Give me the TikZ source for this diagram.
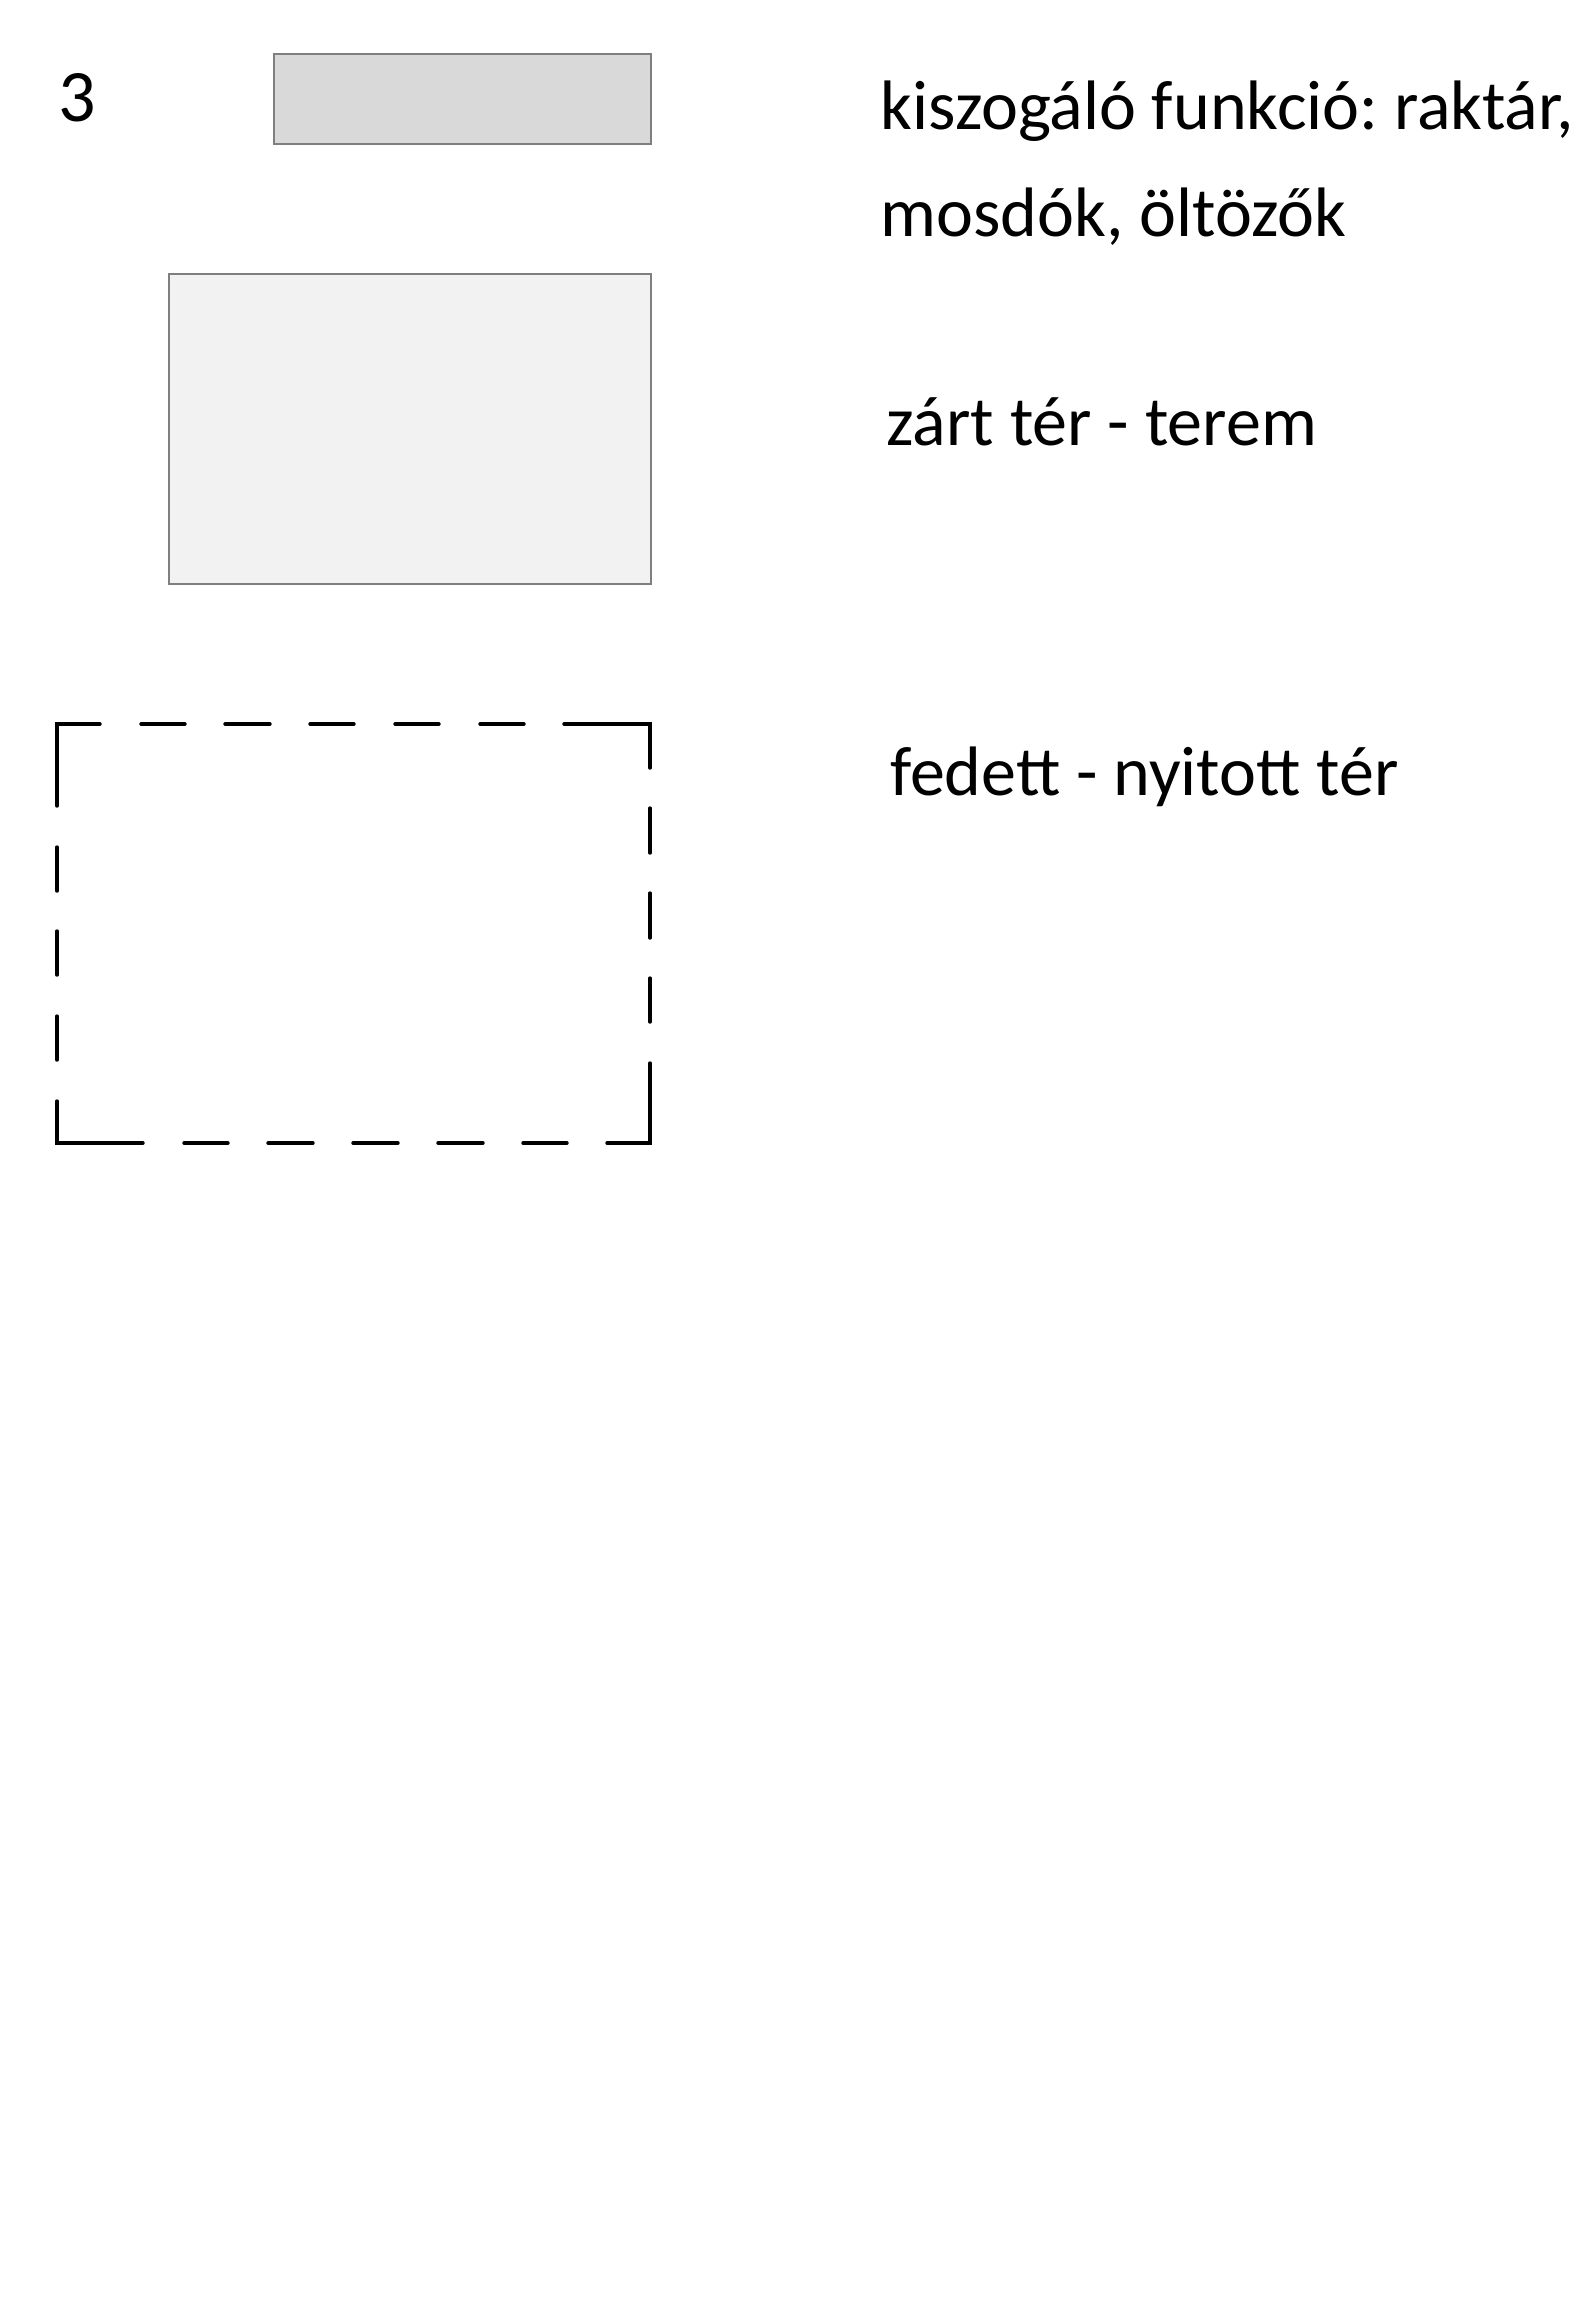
\documentclass[tikz,border=0pt]{standalone}
\usepackage{fontspec}
\setmainfont{Carlito}
\frenchspacing
\definecolor{boxline}{HTML}{7F7F7F}
\definecolor{darkfill}{HTML}{D9D9D9}
\definecolor{lightfill}{HTML}{F2F2F2}
\begin{document}
\begin{tikzpicture}[x=0.5pt,y=-0.5pt,
  box/.style={draw=boxline, line width=1pt, inner sep=0pt, outer sep=0pt, anchor=north west},
  lbl/.style={anchor=base west, inner sep=0pt, font=\fontsize{35}{42}\selectfont},
  openline/.style={line width=1.7pt, line cap=round, line join=miter}]
\useasboundingbox (0,0) rectangle (1591,2299);
\fill[white] (0,0) rectangle (1591,2299);
% number
\node[lbl, font=\fontsize{37}{44}\selectfont] (num) at (58,121) {3};
% service box
\node[box, fill=darkfill, minimum width=188.5pt, minimum height=45pt] (serv) at (274,54) {};
% closed room
\node[box, fill=lightfill, minimum width=241pt, minimum height=155pt] (room) at (169,274) {};
% covered open space: dashed outline
\draw[openline] (57,806) -- (57,724) -- (100,724);
\draw[openline] (564,724) -- (650,724) -- (650,768);
\draw[openline] (650,1063) -- (650,1143) -- (607,1143);
\draw[openline] (143,1143) -- (57,1143) -- (57,1101);
\foreach \a/\b in {141/185,225/270,310/354,395/439,480/524}
  \draw[openline] (\a,724) -- (\b,724);
\foreach \a/\b in {184/228,268/313,353/398,438/483,523/567}
  \draw[openline] (\a,1143) -- (\b,1143);
\foreach \a/\b in {808/853,893/938,978/1022}
  \draw[openline] (650,\a) -- (650,\b);
\foreach \a/\b in {847/891,931/975,1016/1060}
  \draw[openline] (57,\a) -- (57,\b);
% labels
\node[lbl] (t1) at (880,129) {kiszogáló funkció: raktár,};
\node[lbl] (t2) at (880,236) {mosdók, öltözők};
\node[lbl] (t3) at (886,445) {zárt tér - terem};
\node[lbl] (t4) at (890,795) {fedett - nyitott tér};
\end{tikzpicture}
\end{document}
